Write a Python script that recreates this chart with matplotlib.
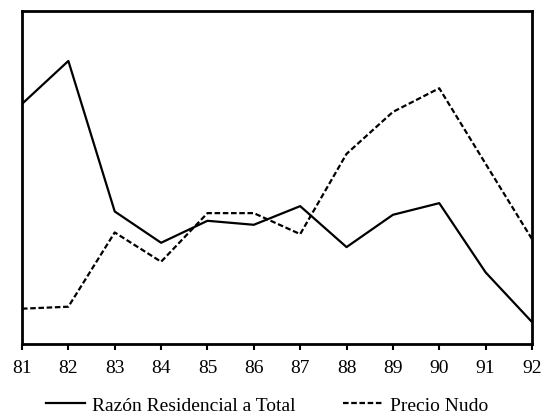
import matplotlib
matplotlib.use("Agg")
import matplotlib.pyplot as plt

plt.rcParams['font.family'] = ['Liberation Serif', 'DejaVu Serif']

# años (81 = 1981 ... 92 = 1992)
anios = [81, 82, 83, 84, 85, 86, 87, 88, 89, 90, 91, 92]
etiquetas = [str(a) for a in anios]

# índices relativos (sin escala en el eje y)
razon_residencial = [72.1, 85.0, 39.8, 30.4, 37.0, 35.8, 41.4, 29.1, 38.8, 42.3, 21.5, 6.6]
precio_nudo = [10.6, 11.2, 33.5, 24.7, 39.3, 39.3, 33.0, 57.1, 69.7, 76.8, 54.1, 31.5]

fig = plt.figure(figsize=(5.42, 4.14), dpi=100)
ax = fig.add_axes([22/542, 1 - 345/414, 510/542, 333/414])

ax.plot(anios, razon_residencial, color='black', lw=1.6, label='Razón Residencial a Total')
ax.plot(anios, precio_nudo, color='black', lw=1.6, linestyle=(0, (2.5, 1.2)), label='Precio Nudo')

ax.set_xlim(81, 92)
ax.set_ylim(0, 100)
ax.set_xticks(anios)
ax.set_xticklabels(etiquetas)
ax.set_yticks([])
ax.tick_params(axis='x', direction='out', length=4, width=1.5, pad=7, labelsize=14)
for s in ax.spines.values():
    s.set_linewidth(2)

fig.legend(loc='center', bbox_to_anchor=(267/542, 1 - 406/414), ncol=2, frameon=False,
           fontsize=14, handlelength=2.0, columnspacing=2.45, handletextpad=0.4)

fig.savefig('out.png', dpi=100)
